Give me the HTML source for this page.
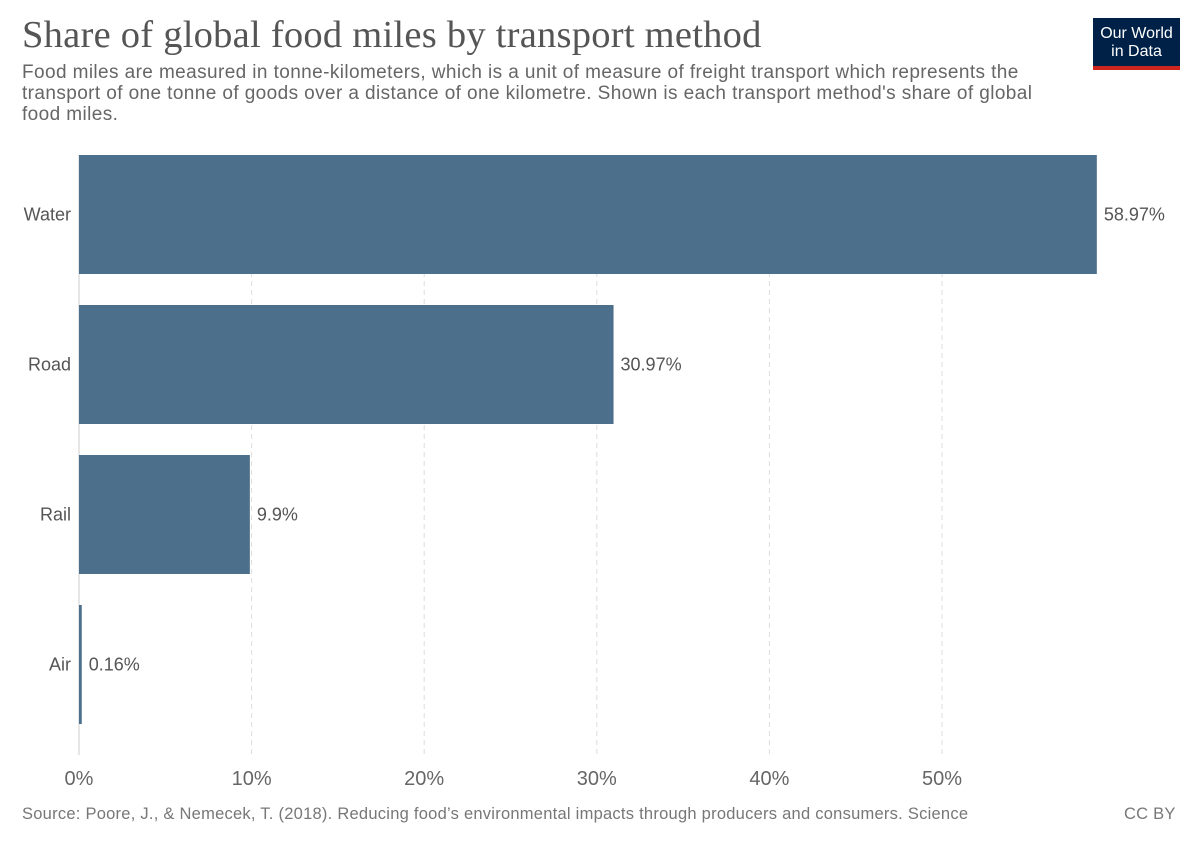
<!DOCTYPE html>
<html><head><meta charset="utf-8"><style>
body{margin:0;background:#fff;width:1200px;height:847px;overflow:hidden;font-family:"Liberation Sans",sans-serif}
.t{position:absolute;left:22px;top:13px;font-family:"Liberation Serif",serif;font-size:38.5px;letter-spacing:0.25px;color:#555;white-space:nowrap}
.s{position:absolute;left:22px;top:62px;width:1100px;font-size:19px;letter-spacing:0.4px;line-height:21px;color:#666;white-space:nowrap}
.logo{position:absolute;left:1093px;top:18px;width:87px;height:52px;background:#002147;color:#fff;font-size:16px;line-height:18px;text-align:center;padding-top:7px;box-sizing:border-box}
.logo:after{content:"";position:absolute;left:0;right:0;bottom:0;height:4px;background:#ce261e}
.f{position:absolute;top:805px;font-size:16.5px;letter-spacing:0.25px;color:#777;white-space:nowrap}
</style></head><body>
<div class="t">Share of global food miles by transport method</div>
<div class="s">Food miles are measured in tonne-kilometers, which is a unit of measure of freight transport which represents the<br>transport of one tonne of goods over a distance of one kilometre. Shown is each transport method's share of global<br>food miles.</div>
<div class="logo">Our World<br>in Data</div>
<svg id="c" width="1200" height="847" style="position:absolute;left:0;top:0"></svg>
<div class="f" style="left:22px">Source: Poore, J., &amp; Nemecek, T. (2018). Reducing food’s environmental impacts through producers and consumers. Science</div>
<div class="f" style="left:1124px">CC BY</div>
<script>
const categories=["Water","Road","Rail","Air"];
const values=[58.97,30.97,9.9,0.16];
const valueLabels=["58.97%","30.97%","9.9%","0.16%"];
const ticks=[0,10,20,30,40,50];
const tickLabels=["0%","10%","20%","30%","40%","50%"];
const svg=document.getElementById('c');
const NS="http://www.w3.org/2000/svg";
const x=v=>79+v*17.26;
const y0=155,step=150,bh=119;
function mk(t,a){const e=document.createElementNS(NS,t);for(const k in a)e.setAttribute(k,a[k]);svg.appendChild(e);return e;}
ticks.forEach((t,i)=>{
 if(t>0){const g=mk('line',{x1:x(t),x2:x(t),y1:155,y2:755,stroke:'#ddd','stroke-dasharray':'5,4'});
 
 }
 const l=mk('text',{x:x(t),y:785,'text-anchor':'middle','font-size':20,fill:'#666'});l.textContent=tickLabels[i];
 
 
});
const ax=mk('line',{x1:79,x2:79,y1:155,y2:755,stroke:'#ccc'});


categories.forEach((c,i)=>{
 const yy=y0+i*step;
 const r=mk('rect',{x:79,y:yy,width:Math.max(x(values[i])-79,2),height:bh,fill:'#4c6f8c'});
 
 
 const lb=mk('text',{x:71,y:yy+bh/2+6,'text-anchor':'end','font-size':18,fill:'#555'});lb.textContent=c;
 
 
 const vl=mk('text',{x:Math.max(x(values[i]),81)+7,y:yy+bh/2+6,'font-size':18,fill:'#555'});vl.textContent=valueLabels[i];
 
 
});
</script>
</body></html>
